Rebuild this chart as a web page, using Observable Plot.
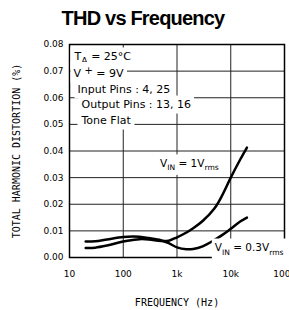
<!DOCTYPE html>
<html><head><meta charset="utf-8">
<script src="https://cdn.jsdelivr.net/npm/d3@7"></script>
<script src="https://cdn.jsdelivr.net/npm/@observablehq/plot@0.6"></script>
<style>
body{margin:0;background:#fff;width:289px;height:310px;overflow:hidden}
#title{box-sizing:border-box;height:36px;padding-top:7px;line-height:20px;font:bold 20px "Liberation Sans",Arial,sans-serif;letter-spacing:-0.8px;text-align:center;padding-right:3px;color:#000}
</style></head><body>
<div id="title">THD vs Frequency</div>
<div id="chart"></div>
<script>
// Data
const freqs  = [20, 30, 50, 100, 150, 200, 300, 500, 700, 1000, 1500, 2000, 3000, 5000, 7000, 10000, 15000, 20000];
const thd1V  = [0.0036, 0.0037, 0.0045, 0.0060, 0.0066, 0.0069, 0.0068, 0.0062, 0.0063, 0.0076, 0.0094, 0.0110, 0.0137, 0.0185, 0.0235, 0.0300, 0.0368, 0.0413];
const thd03V = [0.0060, 0.0061, 0.0068, 0.0077, 0.0079, 0.0078, 0.0073, 0.0065, 0.0054, 0.0038, 0.0031, 0.0032, 0.0042, 0.0066, 0.0085, 0.0108, 0.0135, 0.0150];
const xTicks = [10, 100, 1000, 10000, 100000];
const xTickLabels = ["10", "100", "1k", "10k", "100k"];
const yTicks = [0, 0.01, 0.02, 0.03, 0.04, 0.05, 0.06, 0.07, 0.08];
const notes = ["T_{A} = 25°C", "V ^{+} = 9V", "Input Pins : 4, 25", "Output Pins : 13, 16", "Tone Flat"];
const curveLabelText = ["V_{IN} = 1V_{rms}", "V_{IN} = 0.3V_{rms}"];
const curveLabelFreq = [1700, 22000];
const curveLabelThd  = [0.0353, 0.0037];
const xTitle = "FREQUENCY (Hz)";
const yTitle = "TOTAL HARMONIC DISTORTION (%)";

const series = freqs.flatMap((f, i) => [
  {f, v: thd1V[i], s: "1V"},
  {f, v: thd03V[i], s: "0.3V"}
]);
const curveLabels = curveLabelText.map((t, i) => ({t, f: curveLabelFreq[i], v: curveLabelThd[i]}));

const noteDx = [5, 4, 8, 12, 12];
const noteDy = [12, 29, 45, 60, 76];
const F = "DejaVu Sans, sans-serif";

const chart = Plot.plot({
  width: 289, height: 274,
  marginTop: 8, marginLeft: 69, marginRight: 5, marginBottom: 53,
  style: {fontFamily: F, fontSize: "9px", background: "white", color: "#000"},
  x: {type: "log", domain: [10, 100000]},
  y: {domain: [0, 0.08]},
  marks: [
    Plot.gridX(xTicks.slice(1, -1), {stroke: "#222", strokeOpacity: 1, strokeWidth: 1}),
    Plot.gridY(yTicks.slice(1, -1), {stroke: "#222", strokeOpacity: 1, strokeWidth: 1}),
    Plot.frame({stroke: "#000", strokeWidth: 1.5}),
    Plot.axisX({ticks: xTicks, tickFormat: d => xTickLabels[xTicks.indexOf(d)], tickSize: 0, tickPadding: 13, label: null, fontSize: 9}),
    Plot.axisY({ticks: yTicks, tickFormat: d3.format(".2f"), tickSize: 0, tickPadding: 6, label: null, fontSize: 9}),
    Plot.line(series, {x: "f", y: "v", z: "s", stroke: "#000", strokeWidth: 2.5, curve: "catmull-rom"}),
    ...notes.map((t, i) => Plot.text([t], {frameAnchor: "top-left", dx: noteDx[i], dy: noteDy[i], textAnchor: "start", lineAnchor: "middle", fontSize: 11, fill: "#000"})),
    Plot.text(curveLabels, {x: "f", y: "v", text: "t", fontSize: 10.5, fill: "#000"}),
    Plot.text([xTitle], {frameAnchor: "bottom", dy: 45, textAnchor: "middle", lineAnchor: "middle", fontFamily: "DejaVu Sans Mono, monospace", fontSize: 10, fill: "#000"}),
    Plot.text([yTitle], {frameAnchor: "left", dx: -53, rotate: -90, textAnchor: "middle", lineAnchor: "middle", fontFamily: "DejaVu Sans Mono, monospace", fontSize: 10, fill: "#000"})
  ]
});
document.getElementById("chart").appendChild(chart);

// Render sub/superscripts and white label backgrounds
const labelTexts = new Set([...notes, ...curveLabelText]);
chart.querySelectorAll("text").forEach(el => {
  const s = el.textContent;
  if (!labelTexts.has(s)) return;
  const NS = "http://www.w3.org/2000/svg";
  el.textContent = "";
  const re = /([_^])\{([^}]*)\}/g;
  let last = 0, m, shift = 0;
  const add = (txt, kind) => {
    const ts = document.createElementNS(NS, "tspan");
    ts.textContent = txt;
    const target = kind === "sub" ? 3.5 : kind === "sup" ? -3.5 : 0;
    const d = target - shift;
    if (d) ts.setAttribute("dy", d);
    shift = target;
    if (kind === "sub") ts.setAttribute("font-size", txt.length === 1 ? "0.85em" : "0.72em");
    if (kind === "sup") ts.setAttribute("font-size", "0.9em");
    el.appendChild(ts);
  };
  while ((m = re.exec(s))) {
    if (m.index > last) add(s.slice(last, m.index), null);
    add(m[2], m[1] === "_" ? "sub" : "sup");
    last = re.lastIndex;
  }
  if (last < s.length) add(s.slice(last), null);
  const b = el.getBBox();
  const r = document.createElementNS(NS, "rect");
  r.setAttribute("x", b.x - 3); r.setAttribute("y", b.y - 2.5);
  r.setAttribute("width", b.width + 6); r.setAttribute("height", b.height + 5);
  r.setAttribute("fill", "white");
  const tr = el.getAttribute("transform");
  if (tr) r.setAttribute("transform", tr);
  el.parentNode.insertBefore(r, el);
});
</script>
</body></html>
